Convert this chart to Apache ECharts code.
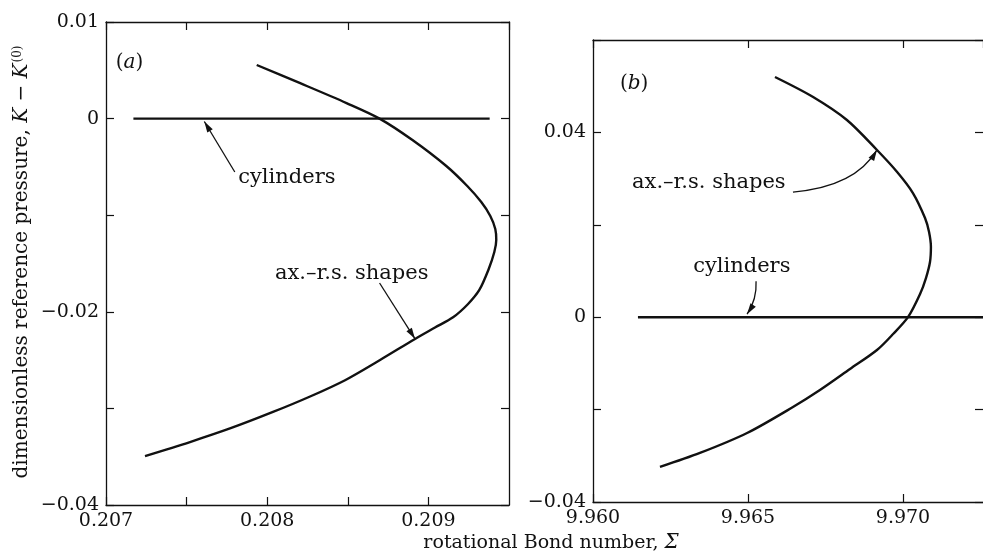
<!DOCTYPE html>
<html>
<head>
<meta charset="utf-8">
<script src="https://cdn.jsdelivr.net/npm/echarts@6/dist/echarts.min.js"></script>
<style>
  html, body { margin: 0; padding: 0; background: #fff; overflow: hidden; }
  #chart { width: 983px; height: 556px; }
</style>
</head>
<body>
<div id="chart"></div>
<script>
const FONT = 'DejaVu Serif';
const INK = '#111';

// ---- panel (a): rotational Bond number near 0.208 ----
const bondA = [0.207935, 0.208201, 0.208492, 0.208697, 0.208901, 0.209111, 0.209241, 0.209328,
               0.209384, 0.209415, 0.209421, 0.209409, 0.209372, 0.209316, 0.209246, 0.209153,
               0.209041, 0.208917, 0.208700, 0.208483, 0.208266, 0.208036, 0.207769, 0.207521,
               0.207242];
const pressureA = [0.00555, 0.00369, 0.00161, 0.0, -0.00222, -0.00491, -0.00698, -0.00864,
                   -0.01008, -0.01143, -0.01257, -0.01381, -0.01567, -0.01774, -0.01919, -0.02057,
                   -0.02163, -0.02281, -0.02499, -0.02708, -0.02877, -0.03037, -0.03208, -0.03348,
                   -0.03493];
const cylBondA = [0.20717, 0.20938];
const cylPressureA = [0, 0];
const xLabelsA = [0.207, 0.208, 0.209];
const yLabelsA = [0.01, 0, -0.02, -0.04];

// ---- panel (b): rotational Bond number near 9.966 ----
const bondB = [9.96587, 9.96710, 9.96819, 9.96916, 9.96981, 9.97032, 9.97071, 9.97084,
               9.97090, 9.97087, 9.97074, 9.97055, 9.97016, 9.96968, 9.96916, 9.96829,
               9.96732, 9.96645, 9.96497, 9.96345, 9.96216];
const pressureB = [0.05199, 0.04766, 0.04268, 0.03619, 0.03143, 0.02688, 0.02147, 0.01844,
                   0.01519, 0.01195, 0.00848, 0.00502, 0.0, -0.00364, -0.00710, -0.01121,
                   -0.01576, -0.01944, -0.02507, -0.02939, -0.03242];
const cylBondB = [9.96145, 9.97258];
const cylPressureB = [0, 0];
const xLabelsB = [9.960, 9.965, 9.970];
const yLabelsB = [0.04, 0, -0.04];

const zip = (xs, ys) => xs.map((x, i) => [x, ys[i]]);
const has = (list, v) => list.some(t => Math.abs(t - v) < 1e-9);
const fmtY = v => Math.abs(v) < 1e-12 ? '0' : (v < 0 ? '\u2212' : '') + Math.abs(v).toFixed(2);

const labelFont = { color: INK, fontFamily: FONT, fontSize: 19 };
const lineStyle = { color: INK, width: 1.3 };
const tick = { show: true, inside: true, length: 8, lineStyle: { color: INK, width: 1.2 } };

function xAxis(grid, min, max, interval, labels, pos) {
  return {
    type: 'value', gridIndex: grid, position: pos, min, max, interval,
    axisLine: { show: true, onZero: false, lineStyle },
    axisTick: tick,
    splitLine: { show: false },
    axisLabel: pos === 'bottom'
      ? Object.assign({ margin: 7, showMaxLabel: false, formatter: v => has(labels, v) ? v.toFixed(3) : '' }, labelFont)
      : { show: false }
  };
}
function yAxis(grid, min, max, interval, labels, pos, showLine = true) {
  return {
    type: 'value', gridIndex: grid, position: pos, min, max, interval,
    axisLine: { show: showLine, onZero: false, lineStyle },
    axisTick: tick,
    splitLine: { show: false },
    axisLabel: pos === 'left'
      ? Object.assign({ margin: 7, formatter: v => has(labels, v) ? fmtY(v) : '' }, labelFont)
      : { show: false }
  };
}
function curve(xi, yi, data) {
  return {
    type: 'line', xAxisIndex: xi, yAxisIndex: yi, data,
    showSymbol: false, smooth: 0.3, silent: true, animation: false,
    lineStyle: { color: INK, width: 2.4 }
  };
}

const chart = echarts.init(document.getElementById('chart'), null, { renderer: 'canvas' });
chart.setOption({
  animation: false,
  backgroundColor: '#fff',
  grid: [
    { left: 106, top: 22, width: 403, height: 483 },
    // panel (b) runs on past the page's right edge, so its frame stops there
    { left: 593, top: 40, right: 0, height: 462 }
  ],
  xAxis: [
    xAxis(0, 0.207, 0.2095, 0.0005, xLabelsA, 'bottom'),
    xAxis(0, 0.207, 0.2095, 0.0005, xLabelsA, 'top'),
    xAxis(1, 9.960, 9.97258, 0.005, xLabelsB, 'bottom'),
    xAxis(1, 9.960, 9.97258, 0.005, xLabelsB, 'top')
  ],
  yAxis: [
    yAxis(0, -0.04, 0.01, 0.01, yLabelsA, 'left'),
    yAxis(0, -0.04, 0.01, 0.01, yLabelsA, 'right'),
    yAxis(1, -0.04, 0.06, 0.02, yLabelsB, 'left'),
    yAxis(1, -0.04, 0.06, 0.02, yLabelsB, 'right', false)
  ],
  series: [
    curve(0, 0, zip(bondA, pressureA)),
    curve(0, 0, zip(cylBondA, cylPressureA)),
    curve(2, 2, zip(bondB, pressureB)),
    curve(2, 2, zip(cylBondB, cylPressureB))
  ]
});

// ---- annotations, positioned in data units of each panel ----
const toA = p => chart.convertToPixel({ xAxisIndex: 0, yAxisIndex: 0 }, p);
const toB = p => chart.convertToPixel({ xAxisIndex: 2, yAxisIndex: 2 }, p);

const rich = {
  i: { fontFamily: FONT, fontSize: 20, fontStyle: 'italic', fill: INK },
  sup: { fontFamily: FONT, fontSize: 12, fill: INK, verticalAlign: 'top', padding: [0, 0, 8, 1] }
};

function label(pt, text, opts = {}) {
  return {
    type: 'text', x: pt[0], y: pt[1], rotation: opts.rotation || 0, silent: true,
    style: {
      text, fill: INK, font: `${opts.size || 21}px "${FONT}"`,
      textAlign: opts.align || 'left', textVerticalAlign: 'middle', rich
    }
  };
}
function head(tip, from) {
  const a = Math.atan2(tip[1] - from[1], tip[0] - from[0]);
  const L = 11, W = 3.2;
  const bx = tip[0] - L * Math.cos(a), by = tip[1] - L * Math.sin(a);
  return {
    type: 'polygon', silent: true,
    shape: { points: [tip, [bx + W * Math.sin(a), by - W * Math.cos(a)], [bx - W * Math.sin(a), by + W * Math.cos(a)]] },
    style: { fill: INK }
  };
}
function straightArrow(from, tip) {
  return [
    { type: 'line', silent: true, shape: { x1: from[0], y1: from[1], x2: tip[0], y2: tip[1] }, style: { stroke: INK, lineWidth: 1.3 } },
    head(tip, from)
  ];
}
function curvedArrow(from, ctrl, tip) {
  return [
    { type: 'bezierCurve', silent: true, shape: { x1: from[0], y1: from[1], x2: tip[0], y2: tip[1], cpx1: ctrl[0], cpy1: ctrl[1] }, style: { stroke: INK, lineWidth: 1.3, fill: null } },
    head(tip, ctrl)
  ];
}

const graphics = [
  label(toA([0.20706, 0.0058]), '({i|a})', { size: 20 }),
  label(toA([0.20782, -0.0061]), 'cylinders'),
  ...straightArrow(toA([0.207799, -0.00553]), toA([0.20761, -0.0003])),
  label(toA([0.208048, -0.0160]), 'ax.\u2013r.s. shapes'),
  ...straightArrow(toA([0.208697, -0.01702]), toA([0.208917, -0.0228])),

  label(toB([9.96087, 0.0505]), '({i|b})', { size: 20 }),
  label(toB([9.96126, 0.02925]), 'ax.\u2013r.s. shapes'),
  ...curvedArrow(toB([9.96645, 0.02709]), toB([9.96845, 0.0282]), toB([9.96916, 0.0362])),
  label(toB([9.96323, 0.01105]), 'cylinders'),
  ...curvedArrow(toB([9.96526, 0.0078]), toB([9.96529, 0.0039]), toB([9.96497, 0.00065])),

  label([22, 262], 'dimensionless reference pressure, {i|K} \u2212 {i|K}{sup|(0)}', { align: 'center', rotation: Math.PI / 2, size: 20 }),
  label([551, 543], 'rotational Bond number, {i|\u03a3}', { align: 'center', size: 19 })
];
chart.setOption({ graphic: graphics });
</script>
</body>
</html>
